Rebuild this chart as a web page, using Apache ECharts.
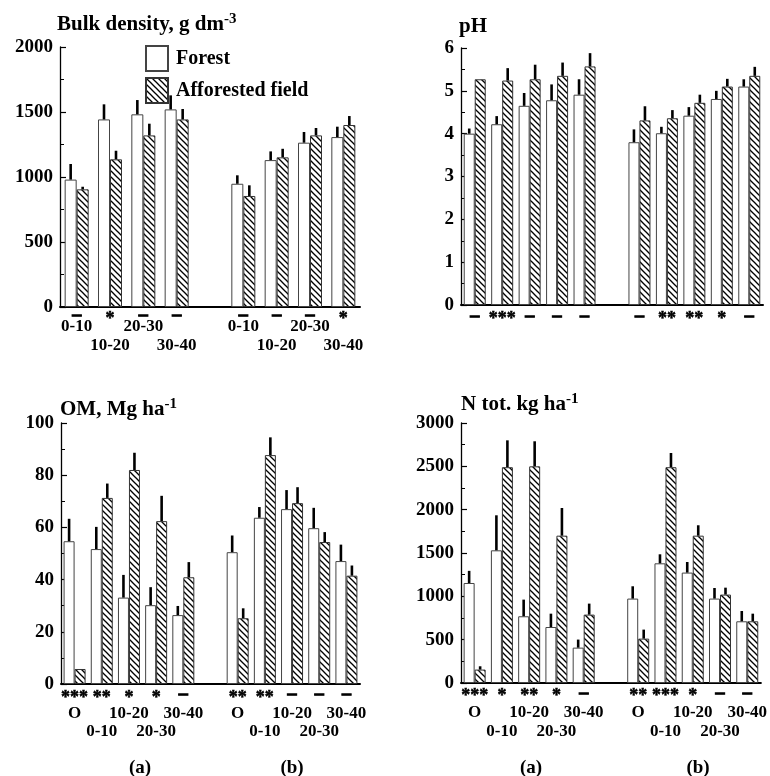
<!DOCTYPE html>
<html>
<head>
<meta charset="utf-8">
<script src="https://cdn.jsdelivr.net/npm/echarts@6/dist/echarts.min.js"></script>
<style>html,body{margin:0;padding:0;background:#fff;}#c{width:770px;height:776px;}</style>
</head>
<body>
<div id="c"></div>
<script>
// ---------- DATA ----------
const bdDepths = ['0-10', '10-20', '20-30', '30-40'];
const layers = ['O', '0-10', '10-20', '20-30', '30-40'];

// Bulk density, g dm-3
const bdForestA = [980, 1443, 1482, 1520];
const bdForestAErr = [120, 116, 110, 108];
const bdAffA = [905, 1136, 1320, 1443];
const bdAffAErr = [20, 66, 90, 80];
const bdForestB = [948, 1130, 1264, 1307];
const bdForestBErr = [65, 67, 82, 80];
const bdAffB = [854, 1151, 1320, 1400];
const bdAffBErr = [82, 66, 57, 69];
const bdSigA = ['–', '*', '–', '–'];
const bdSigB = ['–', '–', '–', '*'];

// pH
const phForestA = [4.00, 4.22, 4.65, 4.78, 4.91];
const phForestAErr = [0.12, 0.19, 0.30, 0.37, 0.36];
const phAffA = [5.27, 5.24, 5.27, 5.35, 5.57];
const phAffAErr = [0, 0.29, 0.34, 0.31, 0.31];
const phForestB = [3.80, 4.01, 4.42, 4.81, 5.10];
const phForestBErr = [0.30, 0.15, 0.20, 0.19, 0.17];
const phAffB = [4.31, 4.36, 4.72, 5.10, 5.35];
const phAffBErr = [0.33, 0.19, 0.19, 0.18, 0.21];
const phSigA = ['–', '***', '–', '–', '–'];
const phSigB = ['–', '**', '**', '*', '–'];

// OM, Mg ha-1
const omForestA = [54.7, 51.7, 33.1, 30.2, 26.4];
const omForestAErr = [8.6, 8.5, 8.7, 6.9, 3.5];
const omAffA = [5.75, 71.3, 82.0, 62.4, 40.9];
const omAffAErr = [0, 5.5, 6.6, 9.7, 5.8];
const omForestB = [50.5, 63.7, 67.0, 59.7, 47.1];
const omForestBErr = [6.4, 4.1, 7.3, 7.8, 6.3];
const omAffB = [25.2, 87.7, 69.3, 54.4, 41.5];
const omAffBErr = [3.8, 6.8, 6.1, 3.8, 3.9];
const omSigA = ['***', '**', '*', '*', '–'];
const omSigB = ['**', '**', '–', '–', '–'];

// N tot, kg ha-1
const nForestA = [1154, 1531, 770, 646, 408];
const nForestAErr = [140, 404, 192, 154, 93];
const nAffA = [155, 2490, 2500, 1700, 789];
const nAffAErr = [38, 310, 289, 319, 127];
const nForestB = [974, 1381, 1274, 974, 712];
const nForestBErr = [142, 104, 122, 122, 119];
const nAffB = [512, 2490, 1700, 1020, 712];
const nAffBErr = [104, 164, 120, 80, 88];
const nSigA = ['***', '*', '**', '*', '–'];
const nSigB = ['**', '***', '*', '–', '–'];

// y-axis settings
const bdAxis = { min: 0, max: 2000, interval: 500 };
const phAxis = { min: 0, max: 6, interval: 1 };
const omAxis = { min: 0, max: 100, interval: 20 };
const nAxis = { min: 0, max: 3000, interval: 500 };

// ---------- STYLE ----------
const FONT = 'Liberation Serif';

function hatchCanvas() {
  const s = 6;
  const c = document.createElement('canvas');
  c.width = s; c.height = s;
  const g = c.getContext('2d');
  g.fillStyle = '#fff';
  g.fillRect(0, 0, s, s);
  g.strokeStyle = '#000';
  g.lineWidth = 1.3;
  [-s, 0, s].forEach(k => {
    g.beginPath();
    g.moveTo(-1, -1 + k);
    g.lineTo(s + 1, s + 1 + k);
    g.stroke();
  });
  return c;
}
const hatch = { image: hatchCanvas(), repeat: 'repeat' };

const chart = echarts.init(document.getElementById('c'), null, { renderer: 'canvas' });

const grids = [], xAxes = [], yAxes = [], series = [];

function addPanel(cfg) {
  const gi = grids.length;
  const n = cfg.labels.length;
  const cats = [];
  for (let i = 0; i < n; i++) cats.push('a' + i);
  cats.push('gap');
  for (let i = 0; i < n; i++) cats.push('b' + i);
  const sigs = cfg.sigA.concat([''], cfg.sigB);
  const labs = cfg.labels.concat([''], cfg.labels);

  grids.push(cfg.grid);
  xAxes.push({
    type: 'category', gridIndex: gi, data: cats,
    axisLine: { lineStyle: { color: '#000', width: 2 } },
    axisTick: { show: false },
    axisLabel: {
      interval: 0, margin: cfg.lab.margin,
      formatter: function (v, idx) {
        if (idx === n) return '';
        const k = idx < n ? idx : idx - n - 1;
        const mark = sigs[idx];
        const s = (mark.indexOf('*') >= 0 ? '{st|' : '{sd|') + mark + '}';
        if (!cfg.twoRows) return s;
        if (k % 2 === 0) return s + '\n{r1|' + labs[idx] + '}';
        return s + '\n{r1| }\n{r2|' + labs[idx] + '}';
      },
      rich: {
        st: { fontFamily: FONT, fontWeight: 'bold', fontSize: 18, color: '#000', lineHeight: cfg.lab.s,
              padding: [11, 0, 0, 0], textBorderColor: '#000', textBorderWidth: 0.5 },
        sd: { fontFamily: FONT, fontWeight: 'bold', fontSize: 18, color: '#000', lineHeight: cfg.lab.s,
              padding: [4, 0, 0, 0], textBorderColor: '#000', textBorderWidth: 1.1 },
        r1: { fontFamily: FONT, fontWeight: 'bold', fontSize: 17, color: '#000', lineHeight: cfg.lab.r1 },
        r2: { fontFamily: FONT, fontWeight: 'bold', fontSize: 17, color: '#000', lineHeight: cfg.lab.r2 }
      }
    },
    splitLine: { show: false }
  });
  yAxes.push({
    type: 'value', gridIndex: gi,
    min: cfg.axis.min, max: cfg.axis.max, interval: cfg.axis.interval,
    axisLine: { show: true, lineStyle: { color: '#000', width: 1.3 } },
    axisTick: { show: true, inside: true, length: 6, lineStyle: { color: '#000', width: 1.2 } },
    minorTick: { show: true, splitNumber: 2, length: 4, lineStyle: { color: '#000', width: 1 } },
    axisLabel: { color: '#000', fontFamily: FONT, fontWeight: 'bold', fontSize: 19, margin: 7,
                 formatter: function (v) { return String(v); } },
    splitLine: { show: false }
  });

  const fData = cfg.fA.concat(['-'], cfg.fB);
  const aData = cfg.aA.concat(['-'], cfg.aB);
  const fErr = cfg.fAe.concat([0], cfg.fBe);
  const aErr = cfg.aAe.concat([0], cfg.aBe);
  const bw = cfg.barWidth;

  series.push({
    name: 'Forest', type: 'bar', xAxisIndex: gi, yAxisIndex: gi,
    data: fData, barWidth: bw, barGap: '0%',
    itemStyle: { color: '#fff', borderColor: '#444', borderWidth: 1 },
    emphasis: { disabled: true }
  });
  series.push({
    name: 'Afforested field', type: 'bar', xAxisIndex: gi, yAxisIndex: gi,
    data: aData, barWidth: bw, barGap: '0%',
    itemStyle: { color: hatch, borderColor: '#333', borderWidth: 1 },
    emphasis: { disabled: true }
  });
  [[fData, fErr, -1], [aData, aErr, 1]].forEach(([vals, errs, side]) => {
    const d = [];
    vals.forEach((v, i) => { if (v !== '-' && errs[i] > 0) d.push([i, v, errs[i]]); });
    series.push({
      type: 'custom', xAxisIndex: gi, yAxisIndex: gi, z: 5,
      encode: { x: 0, y: 1 },
      data: d,
      renderItem: function (params, api) {
        const x = api.value(0), v = api.value(1), e = api.value(2);
        const p0 = api.coord([x, v]);
        const p1 = api.coord([x, v + e]);
        const off = side * bw / 2;
        return {
          type: 'line',
          shape: { x1: p0[0] + off, y1: p0[1], x2: p1[0] + off, y2: p1[1] },
          style: { stroke: '#000', lineWidth: 2.6 }
        };
      }
    });
  });
}

addPanel({
  grid: { left: 60, top: 47, width: 300, height: 260 },
  axis: bdAxis, labels: bdDepths, sigA: bdSigA, sigB: bdSigB, twoRows: true,
  lab: { margin: 3, s: 7, r1: 19.4, r2: 18.6 },
  fA: bdForestA, fAe: bdForestAErr, aA: bdAffA, aAe: bdAffAErr,
  fB: bdForestB, fBe: bdForestBErr, aB: bdAffB, aBe: bdAffBErr, barWidth: 12
});
addPanel({
  grid: { left: 461, top: 48, width: 302, height: 257 },
  axis: phAxis, labels: layers, sigA: phSigA, sigB: phSigB, twoRows: false,
  lab: { margin: 2, s: 14.6, r1: 19, r2: 19 },
  fA: phForestA, fAe: phForestAErr, aA: phAffA, aAe: phAffAErr,
  fB: phForestB, fBe: phForestBErr, aB: phAffB, aBe: phAffBErr, barWidth: 11
});
addPanel({
  grid: { left: 61, top: 423, width: 299, height: 261 },
  axis: omAxis, labels: layers, sigA: omSigA, sigB: omSigB, twoRows: true,
  lab: { margin: 2, s: 13.4, r1: 27.8, r2: 9 },
  fA: omForestA, fAe: omForestAErr, aA: omAffA, aAe: omAffAErr,
  fB: omForestB, fBe: omForestBErr, aB: omAffB, aBe: omAffBErr, barWidth: 11
});
addPanel({
  grid: { left: 461, top: 423, width: 302, height: 260 },
  axis: nAxis, labels: layers, sigA: nSigA, sigB: nSigB, twoRows: true,
  lab: { margin: 2, s: 12.6, r1: 30.8, r2: 7.2 },
  fA: nForestA, fAe: nForestAErr, aA: nAffA, aAe: nAffAErr,
  fB: nForestB, fBe: nForestBErr, aB: nAffB, aBe: nAffBErr, barWidth: 11
});

function titleText(x, y, main, sup) {
  return {
    type: 'text', x: x, y: y,
    style: {
      text: '{t|' + main + '}' + (sup ? '{u|' + sup + '}' : ''),
      verticalAlign: 'middle', align: 'left',
      rich: {
        t: { fontFamily: FONT, fontWeight: 'bold', fontSize: 21, fill: '#000', lineHeight: 26 },
        u: { fontFamily: FONT, fontWeight: 'bold', fontSize: 15, fill: '#000', lineHeight: 14, verticalAlign: 'top' }
      }
    }
  };
}
function plainText(x, y, txt) {
  return {
    type: 'text', x: x, y: y,
    style: { text: txt, fontFamily: FONT, fontWeight: 'bold', fontSize: 19, fill: '#000',
             align: 'center', verticalAlign: 'middle' }
  };
}

chart.setOption({
  animation: false,
  backgroundColor: '#fff',
  grid: grids, xAxis: xAxes, yAxis: yAxes, series: series,
  legend: {
    data: ['Forest', 'Afforested field'],
    orient: 'vertical', left: 140, top: 40,
    itemWidth: 22, itemHeight: 25, itemGap: 5,
    icon: 'rect',
    selectedMode: false,
    textStyle: { fontFamily: FONT, fontWeight: 'bold', fontSize: 20, color: '#000', padding: [0, 0, 0, 3] }
  },
  graphic: [
    titleText(57, 25, 'Bulk density, g dm', '-3'),
    titleText(459, 27, 'pH', ''),
    titleText(60, 410, 'OM, Mg ha', '-1'),
    titleText(461, 405, 'N tot. kg ha', '-1'),
    plainText(140, 768, '(a)'),
    plainText(292, 768, '(b)'),
    plainText(531, 768, '(a)'),
    plainText(698, 768, '(b)')
  ]
});
</script>
</body>
</html>
